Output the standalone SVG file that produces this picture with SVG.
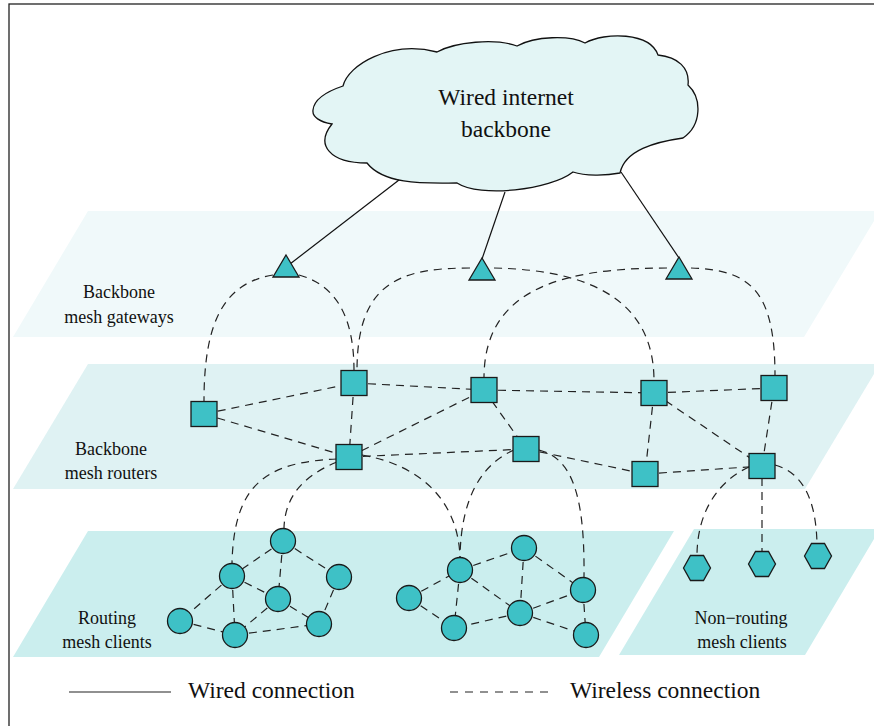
<svg xmlns="http://www.w3.org/2000/svg" width="874" height="726" viewBox="0 0 874 726">
<style>
.node{fill:#3ec1c6;stroke:#1a1a1a;stroke-width:1.3}
.wired{fill:none;stroke:#111;stroke-width:1.2}
.wl{fill:none;stroke:#222;stroke-width:1.2;stroke-dasharray:8 6}
.lbl{font-size:18px;fill:#111;text-anchor:middle}
.big{font-size:23.5px;fill:#111}
</style>
<defs>
<rect id="sq" class="node" x="-13" y="-12.5" width="26" height="25"/>
<polygon id="tri" class="node" points="0,-11 13,11 -13,11"/>
<polygon id="hex" class="node" points="-13.5,0 -6.5,-12.5 6.5,-12.5 13.5,0 6.5,12.5 -6.5,12.5"/>
<circle id="cl" class="node" r="12.5"/>
</defs>
<rect x="0" y="0" width="874" height="726" fill="#fff"/>
<rect x="9" y="4" width="1000" height="1000" fill="none" stroke="#222" stroke-width="1.3"/>
<g id="planes">
<polygon points="88,211 880,211 804,337 13,337" fill="#f0f9fa"/>
<polygon points="88,364 880,364 805,489 13,489" fill="#dff2f3"/>
<polygon points="88,531 674,531 599,657 13,657" fill="#cbeeee"/>
<polygon points="694,529 880,529 805,655 619,655" fill="#cbeeee"/>
</g>
<g font-family="'Liberation Serif', 'DejaVu Serif', serif">
<g id="cloud">
<path d="M313,110 C314,100 325,92 343,86 C348,65 390,40 437,52 C455,42 495,38 517,46 C535,36 570,35 585,43 C605,32 650,32 658,55 C678,57 690,68 688,85 C702,98 702,125 683,138 C655,142 625,150 620,173 C605,176 585,176 573,172 C550,190 480,198 457,183 C430,183 385,186 367,163 C330,163 315,145 332,124 C320,122 312,117 313,110 Z" fill="#e3f5f5" stroke="#111" stroke-width="1.3"/>
<text class="big" x="506" y="105" text-anchor="middle">Wired internet</text>
<text class="big" x="506" y="137" text-anchor="middle">backbone</text>
</g>
<g id="connectors">
<line class="wired" x1="399" y1="180" x2="290" y2="264"/>
<line class="wired" x1="505" y1="192" x2="482" y2="259"/>
<line class="wired" x1="621" y1="172" x2="679" y2="258"/>
<path class="wl" d="M273,275 C225,283 204,320 204,401"/>
<path class="wl" d="M299,275 C335,285 354,315 354,371"/>
<path class="wl" d="M470,268 C400,268 357,282 357,371"/>
<path class="wl" d="M494,268 C590,270 654,300 654,381"/>
<path class="wl" d="M667,268 C560,268 484,290 484,378"/>
<path class="wl" d="M691,268 C750,270 775,290 775,376"/>
<line class="wl" x1="204" y1="414" x2="354" y2="383"/>
<line class="wl" x1="204" y1="414" x2="349" y2="457"/>
<line class="wl" x1="354" y1="383" x2="349" y2="457"/>
<line class="wl" x1="354" y1="383" x2="484" y2="390"/>
<line class="wl" x1="349" y1="457" x2="484" y2="390"/>
<line class="wl" x1="349" y1="457" x2="526" y2="449"/>
<line class="wl" x1="484" y1="390" x2="526" y2="449"/>
<line class="wl" x1="484" y1="390" x2="654" y2="393"/>
<line class="wl" x1="654" y1="393" x2="774" y2="388"/>
<line class="wl" x1="654" y1="393" x2="645" y2="474"/>
<line class="wl" x1="654" y1="393" x2="762" y2="466"/>
<line class="wl" x1="774" y1="388" x2="762" y2="466"/>
<line class="wl" x1="526" y1="449" x2="645" y2="474"/>
<line class="wl" x1="645" y1="474" x2="762" y2="466"/>
<path class="wl" d="M337,459 C265,462 234,485 232,563"/>
<path class="wl" d="M337,462 C305,475 285,495 284,528"/>
<path class="wl" d="M362,455 C420,465 458,500 460,557"/>
<path class="wl" d="M514,450 C480,465 461,500 460,557"/>
<path class="wl" d="M539,450 C570,458 585,490 584,577"/>
<path class="wl" d="M749,467 C720,480 697,510 697,556"/>
<line class="wl" x1="762" y1="478" x2="762" y2="552"/>
<path class="wl" d="M775,465 C800,472 816,495 817,544"/>
<line class="wl" x1="283" y1="541" x2="232" y2="576"/>
<line class="wl" x1="283" y1="541" x2="339" y2="577"/>
<line class="wl" x1="283" y1="541" x2="278" y2="599"/>
<line class="wl" x1="232" y1="576" x2="278" y2="599"/>
<line class="wl" x1="232" y1="576" x2="180" y2="621"/>
<line class="wl" x1="232" y1="576" x2="235" y2="635"/>
<line class="wl" x1="278" y1="599" x2="235" y2="635"/>
<line class="wl" x1="278" y1="599" x2="319" y2="624"/>
<line class="wl" x1="339" y1="577" x2="319" y2="624"/>
<line class="wl" x1="180" y1="621" x2="235" y2="635"/>
<line class="wl" x1="235" y1="635" x2="319" y2="624"/>
<line class="wl" x1="409" y1="598" x2="460" y2="570"/>
<line class="wl" x1="409" y1="598" x2="454" y2="628"/>
<line class="wl" x1="460" y1="570" x2="524" y2="548"/>
<line class="wl" x1="460" y1="570" x2="454" y2="628"/>
<line class="wl" x1="460" y1="570" x2="520" y2="613"/>
<line class="wl" x1="524" y1="548" x2="520" y2="613"/>
<line class="wl" x1="524" y1="548" x2="583" y2="590"/>
<line class="wl" x1="520" y1="613" x2="583" y2="590"/>
<line class="wl" x1="520" y1="613" x2="454" y2="628"/>
<line class="wl" x1="520" y1="613" x2="586" y2="635"/>
<line class="wl" x1="583" y1="590" x2="586" y2="635"/>
</g>
<g id="gateways">
<g id="gw1"><use href="#tri" x="286" y="266"/></g>
<g id="gw2"><use href="#tri" x="482" y="269"/></g>
<g id="gw3"><use href="#tri" x="679" y="268"/></g>
</g>
<g id="routers">
<g id="r1"><use href="#sq" x="204" y="414"/></g>
<g id="r2"><use href="#sq" x="354" y="383"/></g>
<g id="r3"><use href="#sq" x="484" y="390"/></g>
<g id="r4"><use href="#sq" x="654" y="393"/></g>
<g id="r5"><use href="#sq" x="774" y="388"/></g>
<g id="r6"><use href="#sq" x="349" y="457"/></g>
<g id="r7"><use href="#sq" x="526" y="449"/></g>
<g id="r8"><use href="#sq" x="645" y="474"/></g>
<g id="r9"><use href="#sq" x="762" y="466"/></g>
</g>
<g id="clients">
<g id="a1"><use href="#cl" x="283" y="541"/></g>
<g id="a2"><use href="#cl" x="232" y="576"/></g>
<g id="a3"><use href="#cl" x="339" y="577"/></g>
<g id="a4"><use href="#cl" x="278" y="599"/></g>
<g id="a5"><use href="#cl" x="180" y="621"/></g>
<g id="a6"><use href="#cl" x="235" y="635"/></g>
<g id="a7"><use href="#cl" x="319" y="624"/></g>
<g id="b0"><use href="#cl" x="409" y="598"/></g>
<g id="b1"><use href="#cl" x="460" y="570"/></g>
<g id="b2"><use href="#cl" x="524" y="548"/></g>
<g id="b3"><use href="#cl" x="583" y="590"/></g>
<g id="b4"><use href="#cl" x="520" y="613"/></g>
<g id="b5"><use href="#cl" x="454" y="628"/></g>
<g id="b6"><use href="#cl" x="586" y="635"/></g>
</g>
<g id="nonrouting">
<g id="h1"><use href="#hex" x="697" y="568"/></g>
<g id="h2"><use href="#hex" x="762" y="564"/></g>
<g id="h3"><use href="#hex" x="818" y="556"/></g>
</g>
<g id="labels">
<text class="lbl" x="119" y="298">Backbone</text>
<text class="lbl" x="119" y="323">mesh gateways</text>
<text class="lbl" x="111" y="455">Backbone</text>
<text class="lbl" x="111" y="479">mesh routers</text>
<text class="lbl" x="107" y="624">Routing</text>
<text class="lbl" x="107" y="648">mesh clients</text>
<text class="lbl" x="741" y="624">Non−routing</text>
<text class="lbl" x="742" y="648">mesh clients</text>
</g>
<g id="legend">
<line x1="69" y1="692" x2="171" y2="692" stroke="#222" stroke-width="1.2"/>
<text class="big" x="188" y="698">Wired connection</text>
<line x1="450" y1="692" x2="549" y2="692" stroke="#222" stroke-width="1.2" stroke-dasharray="8 7"/>
<text class="big" x="570" y="698">Wireless connection</text>
</g>
</g>
</svg>
